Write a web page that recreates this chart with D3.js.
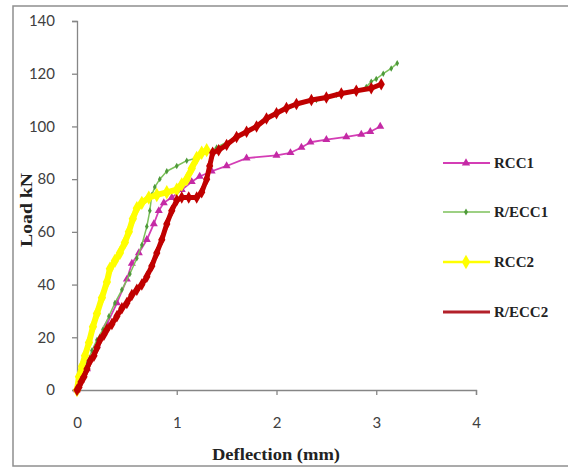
<!DOCTYPE html>
<html><head><meta charset="utf-8">
<script src="https://cdn.jsdelivr.net/npm/d3@7"></script>
<style>html,body{margin:0;padding:0;background:#fff;}svg{display:block;}</style>
</head><body>
<svg id="chart" width="568" height="467"></svg>
<script>
// ---- data ----
const seriesNames = ["RCC1", "R/ECC1", "RCC2", "R/ECC2"];
const xTicks = [0, 1, 2, 3, 4];
const yTicks = [0, 20, 40, 60, 80, 100, 120, 140];

const rcc1 = [[0,0],[0.1,8],[0.2,17],[0.3,25],[0.4,33],[0.5,42],[0.55,48],[0.62,52],[0.7,57],[0.77,63],[0.82,68],[0.87,71],[0.95,73],[1.05,76],[1.15,79],[1.23,81],[1.35,83],[1.5,85],[1.7,88],[2.0,89],[2.14,90],[2.25,92],[2.34,94],[2.5,95],[2.7,96],[2.85,97],[2.94,98],[3.04,100]];
const recc1 = [[0,0],[0.05,5],[0.1,10],[0.15,15],[0.2,19],[0.26,23],[0.32,28],[0.38,33],[0.45,38],[0.53,44],[0.6,50],[0.65,55],[0.7,62],[0.73,68],[0.75,74],[0.78,77],[0.83,80],[0.9,83],[1.0,85],[1.1,87],[1.2,88],[1.3,90],[1.4,92],[1.6,96],[1.8,100],[2.0,105],[2.2,108],[2.4,110],[2.6,112],[2.8,113],[2.9,115],[2.95,117],[3.0,118],[3.07,120],[3.15,122],[3.21,124]];
const rcc2 = [[0,0],[0.02,5],[0.05,9],[0.08,13],[0.12,18],[0.16,24],[0.2,29],[0.25,35],[0.3,41],[0.33,46],[0.38,49],[0.43,52],[0.48,56],[0.52,60],[0.56,65],[0.6,69],[0.65,71],[0.72,73],[0.8,74],[0.9,75],[1.0,76],[1.05,78],[1.1,80],[1.15,84],[1.2,88],[1.25,90],[1.3,91]];
const recc2 = [[0,0],[0.02,1],[0.04,3],[0.07,5],[0.1,8],[0.13,11],[0.17,13],[0.2,16],[0.23,19],[0.27,21],[0.3,23],[0.35,25],[0.4,28],[0.45,31],[0.5,33],[0.55,36],[0.6,38],[0.65,40],[0.7,43],[0.75,47],[0.8,52],[0.85,57],[0.9,63],[0.95,68],[1.0,72],[1.05,73],[1.12,73],[1.2,73],[1.25,75],[1.3,80],[1.33,85],[1.36,90],[1.42,91],[1.5,93],[1.6,96],[1.7,98],[1.8,100],[1.9,103],[2.0,105],[2.1,107],[2.2,108.5],[2.35,110],[2.5,111],[2.65,112.5],[2.8,113.5],[2.95,114.5],[3.05,116]];

const seriesData = [rcc1, recc1, rcc2, recc2];
const styles = [
  {line:"#D43DB5", width:1.8, mark:"#C42AA5", sym:d3.symbolTriangle, size:28, lw:2, lsize:30},
  {line:"#7CC05A", width:1.5, mark:"#4E9A3A", sym:d3.symbolDiamond, size:12, lw:1.5, lsize:14},
  {line:"#FFFF00", width:6, mark:"#FFFF00", sym:d3.symbolDiamond, size:60, lw:2.5, lsize:60},
  {line:"#C00000", width:5, mark:"#C00000", sym:d3.symbolDiamond, size:45, lw:3, lsize:0}
];

const svg = d3.select("#chart");
// frame
svg.append("rect").attr("x",13).attr("y",6).attr("width",600).attr("height",460)
  .attr("fill","#fff").attr("stroke","#8f8f8f").attr("stroke-width",1.5);

const x = d3.scaleLinear().domain([0,4]).range([77,476]);
const y = d3.scaleLinear().domain([0,140]).range([390,21]);

const axisColor = "#868686";
const gy = svg.append("g").attr("transform","translate(77,0)")
  .call(d3.axisLeft(y).tickValues(yTicks).tickFormat(d3.format("d")).tickSize(5).tickPadding(17));
const gx = svg.append("g").attr("transform","translate(0,390)")
  .call(d3.axisBottom(x).tickValues(xTicks).tickFormat(d3.format("d")).tickSize(5).tickPadding(22));
[gx, gy].forEach(g => {
  g.select(".domain").attr("stroke",axisColor).attr("stroke-width",1.3);
  g.selectAll(".tick line").attr("stroke",axisColor).attr("stroke-width",1.3);
  g.selectAll(".tick text").attr("fill","#404040")
    .style("font-family","Lato, 'Open Sans', sans-serif").style("font-size","15px");
});

// series
const line = d3.line().x(d=>x(d[0])).y(d=>y(d[1]));
seriesData.forEach((data,i) => {
  const s = styles[i];
  const g = svg.append("g");
  g.append("path").datum(data).attr("d",line).attr("fill","none")
    .attr("stroke",s.line).attr("stroke-width",s.width).attr("stroke-linejoin","round");
  g.selectAll("path.m").data(data).join("path").attr("class","m")
    .attr("transform",d=>`translate(${x(d[0])},${y(d[1])})`)
    .attr("d",d3.symbol().type(s.sym).size(s.size))
    .attr("fill",s.mark);
});

// axis titles
svg.append("text").attr("x",276).attr("y",460).attr("text-anchor","middle")
  .attr("textLength",128).attr("lengthAdjust","spacingAndGlyphs")
  .style("font-family","'Liberation Serif', serif").style("font-weight","bold").style("font-size","16px")
  .attr("fill","#222").text("Deflection (mm)");
svg.append("text").attr("transform","translate(32,210) rotate(-90)").attr("text-anchor","middle")
  .attr("textLength",74).attr("lengthAdjust","spacingAndGlyphs")
  .style("font-family","'Liberation Serif', serif").style("font-weight","bold").style("font-size","17px")
  .attr("fill","#222").text("Load kN");

// legend
const legY = [163, 212, 262, 312];
seriesNames.forEach((name,i) => {
  const s = styles[i];
  const g = svg.append("g").attr("transform",`translate(0,${legY[i]})`);
  g.append("line").attr("x1",443).attr("x2",490).attr("y1",0).attr("y2",0)
    .attr("stroke", i===3 ? "#B3202A" : s.line).attr("stroke-width",s.lw);
  if (s.lsize>0) g.append("path").attr("transform","translate(466,0)")
    .attr("d",d3.symbol().type(s.sym).size(s.lsize)).attr("fill",s.mark);
  g.append("text").attr("x",494).attr("y",5)
    .style("font-family","'Liberation Serif', serif").style("font-weight","bold").style("font-size","15px")
    .attr("fill","#222").text(name);
});
</script>
</body></html>
